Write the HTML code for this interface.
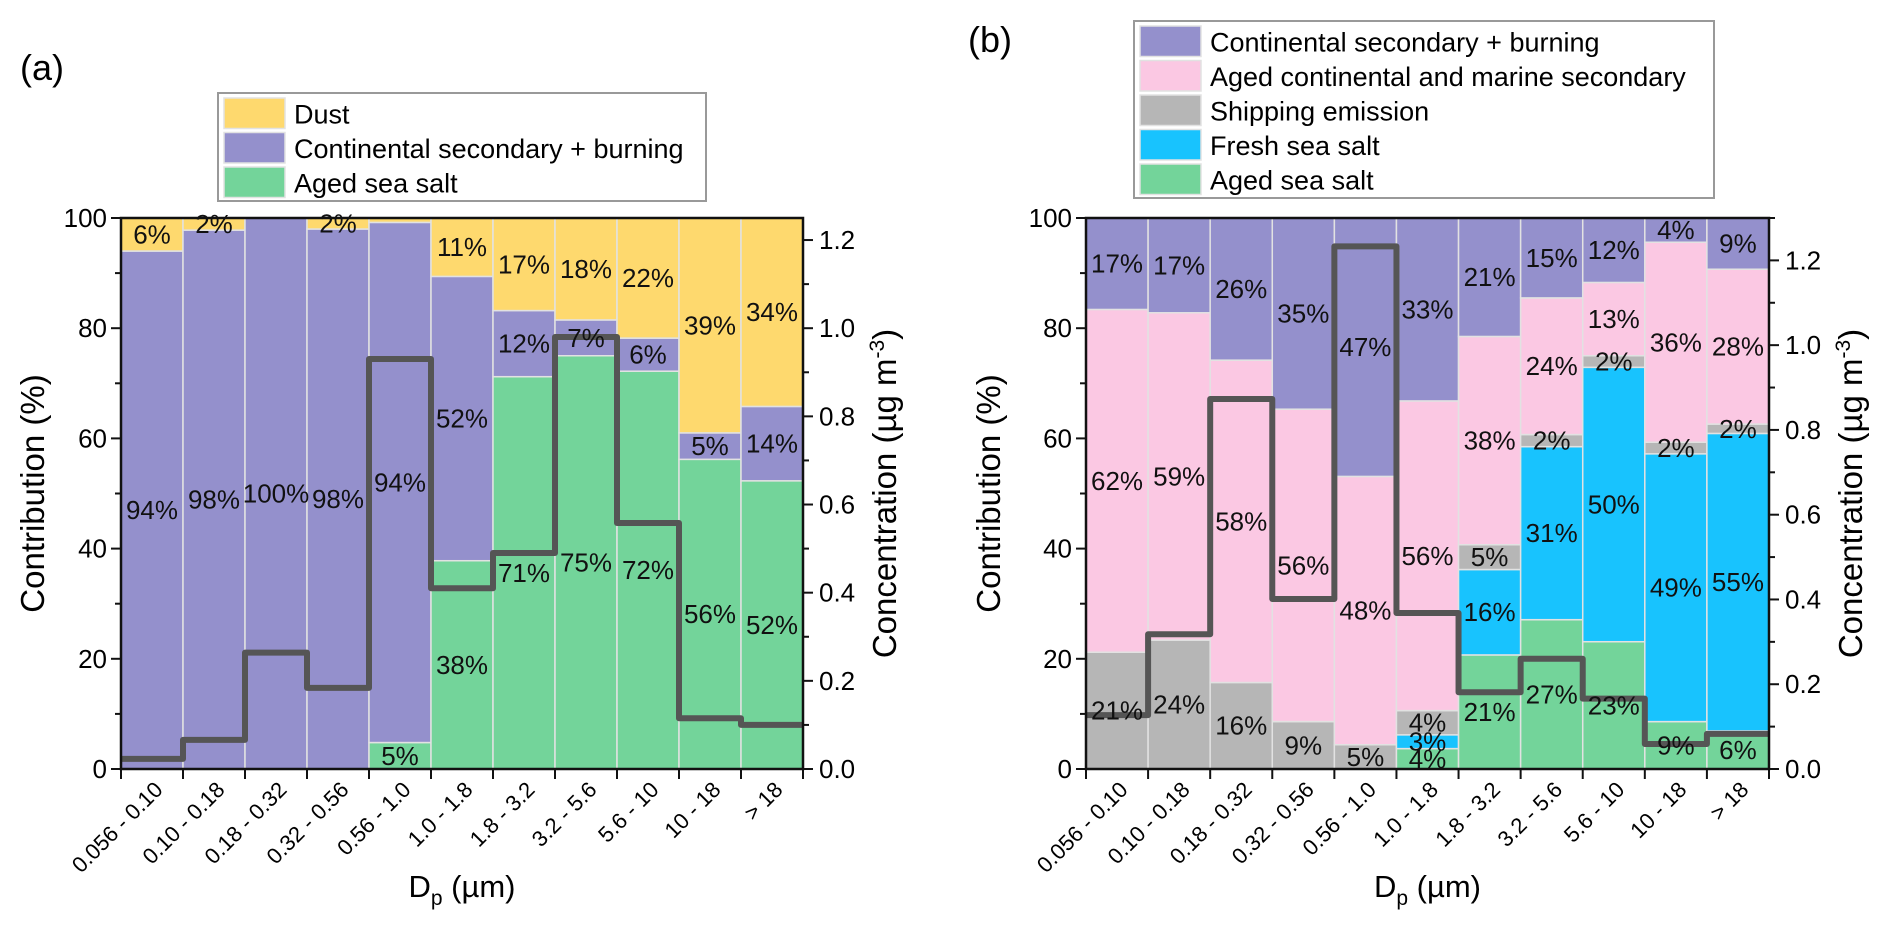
<!DOCTYPE html>
<html><head><meta charset="utf-8"><style>
html,body{margin:0;padding:0;background:#fff;}
svg{display:block;font-family:"Liberation Sans",Arial,sans-serif;}
</style></head><body>
<svg id="fig" width="1892" height="929" viewBox="0 0 1892 929" xmlns="http://www.w3.org/2000/svg">
<g id="panelA"></g>
<g id="panelB"></g>
</svg>
<script>
// ---- shared data ----
const categories = ["0.056 - 0.10","0.10 - 0.18","0.18 - 0.32","0.32 - 0.56","0.56 - 1.0","1.0 - 1.8","1.8 - 3.2","3.2 - 5.6","5.6 - 10","10 - 18","> 18"];
// ---- panel (a) data ----
const aGreen  = [0,0,0,0,4.8,37.8,71.2,75,72.2,56.2,52.3];
const aPurple = [94,97.8,100,98,94.4,51.6,12,6.5,6,4.8,13.5];
const aDust   = [6,2.2,0,2,0.8,10.6,16.8,18.5,21.8,39,34.2];
const aGreenLbl  = ["","","","","5%","38%","71%","75%","72%","56%","52%"];
const aPurpleLbl = ["94%","98%","100%","98%","94%","52%","12%","7%","6%","5%","14%"];
const aDustLbl   = ["6%","2%","","2%","","11%","17%","18%","22%","39%","34%"];
const aConc = [0.023,0.066,0.264,0.184,0.93,0.41,0.49,0.98,0.558,0.115,0.10];
// ---- panel (b) data ----
const bGreen  = [0,0,0,0,0,3.7,20.7,27.1,23.1,8.6,6.9];
const bBlue   = [0,0,0,0,0,2.5,15.5,31.4,49.8,48.6,54.0];
const bGray   = [21.2,23.4,15.7,8.6,4.4,4.4,4.5,2.2,2.1,2.1,1.7];
const bPink   = [62.2,59.4,58.5,56.7,48.7,56.2,37.8,24.8,13.3,36.3,28.1];
const bPurple = [16.6,17.2,25.8,34.7,46.9,33.2,21.5,14.5,11.7,4.4,9.3];
const bGreenLbl  = ["","","","","","4%","21%","27%","23%","9%","6%"];
const bBlueLbl   = ["","","","","","3%","16%","31%","50%","49%","55%"];
const bGrayLbl   = ["21%","24%","16%","9%","5%","4%","5%","2%","2%","2%","2%"];
const bPinkLbl   = ["62%","59%","58%","56%","48%","56%","38%","24%","13%","36%","28%"];
const bPurpleLbl = ["17%","17%","26%","35%","47%","33%","21%","15%","12%","4%","9%"];
const bConc = [0.127,0.318,0.873,0.401,1.233,0.368,0.181,0.26,0.166,0.059,0.083];
const leftTicks = [0,20,40,60,80,100];
const rightTicks = ["0.0","0.2","0.4","0.6","0.8","1.0","1.2"];

const NS="http://www.w3.org/2000/svg";
function mk(parent,tag,attrs,text){const e=document.createElementNS(NS,tag);for(const k in attrs)e.setAttribute(k,attrs[k]);if(text!==undefined)e.textContent=text;parent.appendChild(e);return e;}

const C={dust:"#fed96e",purple:"#9490cc",green:"#73d49a",pink:"#fbc8e3",gray:"#b6b6b6",blue:"#18c3fe"};
const Y0=218,Y1=769;

function drawPanel(g,cfg){
  const x0=cfg.x0,x1=cfg.x1,n=categories.length,bw=(x1-x0)/n;
  const xs=i=>x0+i*bw;
  const yP=v=>Y1-(v/100)*(Y1-Y0);
  const yC=v=>Y1-(v/cfg.cmax)*(Y1-Y0);
  for(let i=0;i<n;i++){
    let base=0;
    cfg.series.forEach(s=>{
      const v=s.vals[i];
      if(v>0){
        const r=mk(g,'rect',{x:xs(i),y:yP(base+v),width:bw,height:yP(base)-yP(base+v),fill:s.color,stroke:"#e2e2e2","stroke-width":1.5});
        
        
      }
      base+=v;
    });
  }
  let d="";
  for(let i=0;i<n;i++){
    const y=yC(cfg.conc[i]);
    d+=(i===0?"M":"L")+xs(i)+","+y+" L"+xs(i+1)+","+y+" ";
  }
  const line=mk(g,'path',{d:d,fill:"none",stroke:"#555",'stroke-width':6,'stroke-linejoin':'round'});
  
  
  for(let i=0;i<n;i++){
    let base=0;
    cfg.series.forEach(s=>{
      const v=s.vals[i],l=s.labels[i];
      if(l){
        const t=mk(g,'text',{x:xs(i)+bw/2,y:yP(base+v/2)+9,'text-anchor':'middle','font-size':26,fill:"#111"},l);
        
        
      }
      base+=v;
    });
  }
  const fr=mk(g,'rect',{x:x0,y:Y0,width:x1-x0,height:Y1-Y0,fill:"none",stroke:"#111",'stroke-width':2.5});
  
  
  for(let v=0;v<=100;v+=10){
    const y=yP(v),maj=v%20===0;
    mk(g,'line',{x1:x0,x2:x0-(maj?10:6),y1:y,y2:y,stroke:"#111",'stroke-width':2});
  }
  leftTicks.forEach(v=>{
    const t=mk(g,'text',{x:x0-14,y:yP(v)+9,'text-anchor':'end','font-size':26},String(v));
    
    
  });
  for(let k=0;k<=Math.floor(cfg.cmax*10+1e-6);k++){
    const y=yC(k/10),maj=k%2===0;
    mk(g,'line',{x1:x1,x2:x1+(maj?10:6),y1:y,y2:y,stroke:"#111",'stroke-width':2});
  }
  rightTicks.forEach(s=>{
    const t=mk(g,'text',{x:x1+16,y:yC(parseFloat(s))+9,'font-size':26},s);
    
    
  });
  for(let i=0;i<=n;i++) mk(g,'line',{x1:xs(i),x2:xs(i),y1:Y1,y2:Y1+10,stroke:"#111",'stroke-width':2});
  categories.forEach((c,i)=>{
    const cx=xs(i)+bw/2+12,cy=Y1+22;
    const t=mk(g,'text',{x:cx,y:cy,'text-anchor':'end','font-size':22,transform:`rotate(-45 ${cx} ${cy})`},c);
    
    
  });
  const xt=mk(g,'text',{x:(x0+x1)/2,y:897,'text-anchor':'middle','font-size':31});
  
  
  mk(xt,'tspan',{},"D");
  mk(xt,'tspan',{'font-size':21,dy:8},"p");
  mk(xt,'tspan',{dy:-8},"\u00a0(\u00b5m)");
  const lx=cfg.ltx,ly=(Y0+Y1)/2;
  const lt=mk(g,'text',{x:lx,y:ly,'text-anchor':'middle','font-size':33,transform:`rotate(-90 ${lx} ${ly})`},"Contribution (%)");
  
  
  const rx=cfg.rtx;
  const rt=mk(g,'text',{x:rx,y:ly,'text-anchor':'middle','font-size':33,transform:`rotate(-90 ${rx} ${ly})`});
  
  
  mk(rt,'tspan',{},"Concentration (\u00b5g m");
  mk(rt,'tspan',{'font-size':21,dy:-12},"-3");
  mk(rt,'tspan',{dy:12},")");
  const pl=mk(g,'text',{x:cfg.lx,y:cfg.ly,'font-size':36},cfg.letter);
  
  
  const L=cfg.legend;
  const lb=mk(g,'rect',{x:L.x,y:L.y,width:L.w,height:L.h,fill:"#fff",stroke:"#999",'stroke-width':2});
  
  
  L.items.forEach((it,k)=>{
    const ry=L.y+5+k*L.rh;
    const sw=mk(g,'rect',{x:L.x+6,y:ry,width:61,height:L.rh-4,fill:it[1],stroke:"#e2e2e2",'stroke-width':1.5});
    
    
    const tx=mk(g,'text',{x:L.x+76,y:ry+L.rh/2+8,'font-size':27},it[0]);
    
    
  });
}

drawPanel(document.getElementById('panelA'),{
  x0:121,x1:803,cmax:1.25,conc:aConc,ltx:44,rtx:896,letter:"(a)",lx:20,ly:80,
  series:[{name:'aged-sea-salt',vals:aGreen,labels:aGreenLbl,color:C.green},
          {name:'continental',vals:aPurple,labels:aPurpleLbl,color:C.purple},
          {name:'dust',vals:aDust,labels:aDustLbl,color:C.dust}],
  legend:{x:218,y:93,w:488,h:108,rh:34.5,items:[["Dust",C.dust],["Continental secondary + burning",C.purple],["Aged sea salt",C.green]]}
});
drawPanel(document.getElementById('panelB'),{
  x0:1086,x1:1769,cmax:1.3,conc:bConc,ltx:1000,rtx:1862,letter:"(b)",lx:968,ly:52,
  series:[{name:'aged-sea-salt',vals:bGreen,labels:bGreenLbl,color:C.green},
          {name:'fresh-sea-salt',vals:bBlue,labels:bBlueLbl,color:C.blue},
          {name:'shipping',vals:bGray,labels:bGrayLbl,color:C.gray},
          {name:'aged-continental-marine',vals:bPink,labels:bPinkLbl,color:C.pink},
          {name:'continental',vals:bPurple,labels:bPurpleLbl,color:C.purple}],
  legend:{x:1134,y:21,w:580,h:177,rh:34.5,items:[["Continental secondary + burning",C.purple],["Aged continental and marine secondary",C.pink],["Shipping emission",C.gray],["Fresh sea salt",C.blue],["Aged sea salt",C.green]]}
});
</script>
</body></html>
